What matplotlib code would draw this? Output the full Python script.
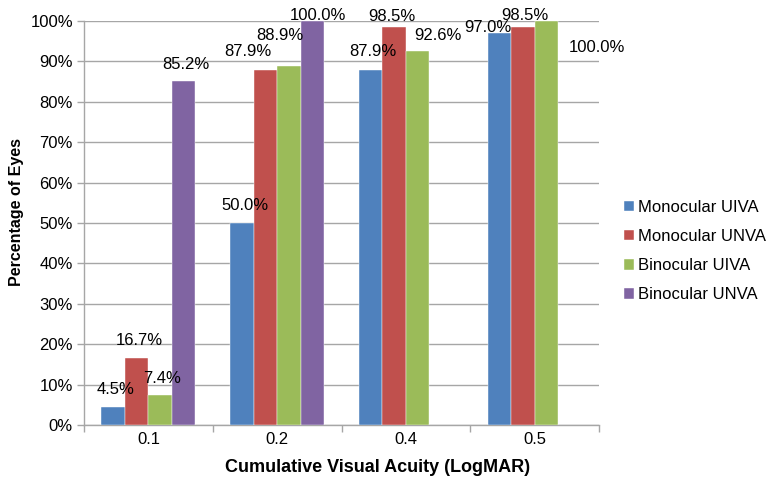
import matplotlib
matplotlib.use("Agg")
import matplotlib.pyplot as plt
import numpy as np

plt.rcParams['font.family'] = ['Liberation Sans', 'DejaVu Sans']

acuity = ['0.1', '0.2', '0.4', '0.5']
series_names = ['Monocular UIVA', 'Monocular UNVA', 'Binocular UIVA', 'Binocular UNVA']
mono_uiva = [4.5, 50.0, 87.9, 97.0]
mono_unva = [16.7, 87.9, 98.5, 98.5]
bino_uiva = [7.4, 88.9, 92.6, 100.0]
bino_unva = [85.2, 100.0, np.nan, np.nan]
colors = ['#4F81BD', '#C0504D', '#9BBB59', '#8064A2']

# label nudges in pixels (dx right, dy up) relative to the top of each bar
nudges = [
    [(2, 17), (3, 17), (2, 18), (-12, 6)],
    [(3, 17), (-18, 18), (-2, 11), (2, 12)],
    [(2, 17), (-9, 30), (20, 15), (51, -27)],
    [(2, 16), (6, 5), None, None],
]

fig = plt.figure(figsize=(7.67, 4.78), dpi=100)
ax = fig.add_axes([84 / 767, 53 / 478, 515 / 767, 404 / 478])

x = np.arange(len(acuity))
w = 0.1825
all_series = [mono_uiva, mono_unva, bino_uiva, bino_unva]
for i, vals in enumerate(all_series):
    pos = x + (i - 1.5) * w
    ax.bar(pos, vals, width=w, color=colors[i], label=series_names[i], zorder=3,
           edgecolor='white', linewidth=0.3)
    for j, v in enumerate(vals):
        if np.isnan(v):
            continue
        dx, dy = nudges[i][j]
        ax.annotate('%.1f%%' % v, xy=(pos[j], v),
                    xytext=(dx * 0.72, dy * 0.72), textcoords='offset points',
                    ha='center', va='center', fontsize=12, color='black',
                    annotation_clip=False, zorder=6)

ax.set_xlim(-0.5, 3.5)
ax.set_ylim(0, 100)
ax.set_yticks(np.arange(0, 101, 10))
ax.set_yticklabels(['%d%%' % t for t in range(0, 101, 10)], fontsize=12)
ax.yaxis.grid(True, color='#A6A6A6', linewidth=1.0, zorder=0)

# category boundaries as ticks, names in between
ax.set_xticks(np.arange(-0.5, 4.0, 1.0))
ax.set_xticklabels([])
ax.set_xticks(x, minor=True)
ax.set_xticklabels(acuity, minor=True, fontsize=12)
ax.tick_params(axis='x', which='minor', length=0, pad=5)
ax.tick_params(axis='x', which='major', length=5, color='#A6A6A6', width=1)
ax.tick_params(axis='y', length=5, color='#A6A6A6', width=1, pad=3)

for s in ['top', 'right']:
    ax.spines[s].set_visible(False)
for s in ['left', 'bottom']:
    ax.spines[s].set_color('#A6A6A6')
    ax.spines[s].set_linewidth(1.0)

ax.set_xlabel('Cumulative Visual Acuity (LogMAR)', fontsize=13, fontweight='bold')
ax.xaxis.set_label_coords((378 - 84) / 515, -(467 - 425) / 404)
ax.xaxis.label.set_va('center')
ax.set_ylabel('Percentage of Eyes', fontsize=11.5, fontweight='bold')
ax.yaxis.set_label_coords((17 - 84) / 515, (425 - 212) / 404)
ax.yaxis.label.set_va('center')

fig.legend(loc='center left', bbox_to_anchor=(624 / 767, 1 - 251 / 478),
           frameon=False, fontsize=12, handlelength=0.6, handleheight=0.6,
           handletextpad=0.25, labelspacing=0.85, borderpad=0, borderaxespad=0)

fig.savefig('out.png', dpi=100)
